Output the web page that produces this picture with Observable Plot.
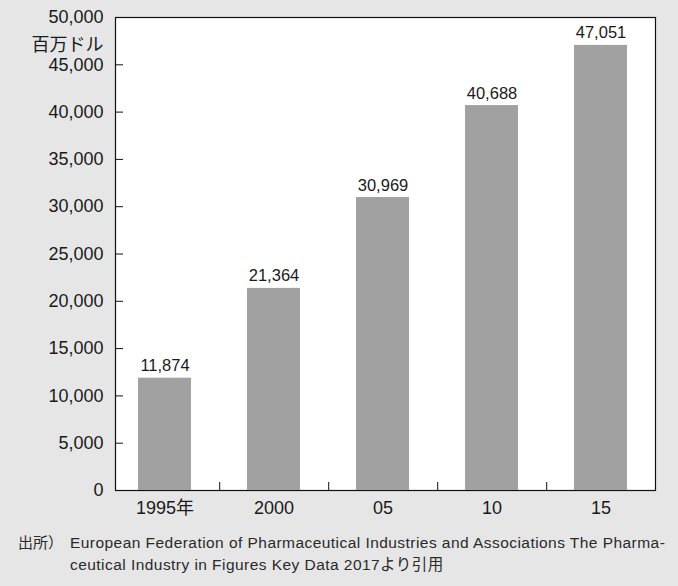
<!DOCTYPE html>
<html>
<head>
<meta charset="utf-8">
<script src="https://cdn.jsdelivr.net/npm/d3@7"></script>
<script src="https://cdn.jsdelivr.net/npm/@observablehq/plot@0.6"></script>
<style>
  html, body { margin: 0; padding: 0; background: #e6e6e6; }
  body { width: 678px; height: 586px; overflow: hidden; font-family: "Liberation Sans", "Noto Sans CJK JP", sans-serif; }
  #chart svg { display: block; }
  .caption { display: flex; font-size: 15.5px; letter-spacing: 0.45px; line-height: 22px; color: #2a2a2a; margin-top: 2px; }
  .caption .src { width: 52px; padding-left: 18px; flex: none; letter-spacing: 0; font-size: 15px; }
</style>
</head>
<body>
<div id="chart"></div>
<div class="caption"><span class="src">出所）</span><span>European Federation of Pharmaceutical Industries and Associations The Pharma-<br>ceutical Industry in Figures Key Data 2017より引用</span></div>
<script>
const categories = ["1995年", "2000", "05", "10", "15"];
const values = [11874, 21364, 30969, 40688, 47051];
const yTicks = [0, 5000, 10000, 15000, 20000, 25000, 30000, 35000, 40000, 45000, 50000];
const yLabel = "百万ドル";

const data = categories.map((c, i) => ({category: c, value: values[i]}));
const W = 678, H = 530, mL = 115, mR = 23, mT = 17, mB = 40;
const xRange = [109, 656];
const step = (xRange[1] - xRange[0]) / categories.length;
const fmt = d3.format(",");

const chart = Plot.plot({
  width: W,
  height: H,
  marginLeft: mL,
  marginRight: mR,
  marginTop: mT,
  marginBottom: mB,
  style: {background: "transparent", fontFamily: "\"Liberation Sans\", \"Noto Sans CJK JP\", sans-serif", color: "#1a1a1a"},
  x: {domain: categories, range: xRange, paddingInner: 0.515, paddingOuter: 0.2575, label: null},
  y: {domain: [0, 50000], label: null},
  marks: [
    Plot.frame({fill: "white", stroke: "#111", strokeWidth: 1.2}),
    Plot.barY(data, {x: "category", y: "value", fill: "#a0a1a0"}),
    Plot.text(data, {x: "category", y: "value", text: d => fmt(d.value), dy: -7, lineAnchor: "bottom", fontSize: 16.5, fill: "#1a1a1a"}),
    Plot.axisY({ticks: yTicks, tickSize: -8, tickPadding: 20, tickFormat: fmt, fontSize: 18, stroke: "#111"}),
    Plot.axisX({tickSize: 0, tickPadding: 11, fontSize: 18}),
    Plot.axisX({ticks: categories.slice(0, -1), tickSize: -8, text: null, dx: step / 2, stroke: "#111"}),
    Plot.text([yLabel], {frameAnchor: "top-left", dx: -12, dy: 21, textAnchor: "end", fontSize: 18, fill: "#1a1a1a"})
  ]
});
document.getElementById("chart").appendChild(chart);
</script>
</body>
</html>
